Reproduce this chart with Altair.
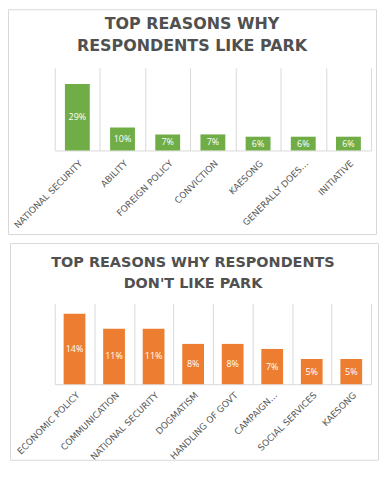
import altair as alt
import pandas as pd

# ---- data ----
like_cats = ["NATIONAL SECURITY", "ABILITY", "FOREIGN POLICY", "CONVICTION",
             "KAESONG", "GENERALLY DOES…", "INITIATIVE"]
like_vals = [29, 10, 7, 7, 6, 6, 6]
like_title = ["TOP REASONS WHY", "RESPONDENTS LIKE PARK"]

dislike_cats = ["ECONOMIC POLICY", "COMMUNICATION", "NATIONAL SECURITY", "DOGMATISM",
                "HANDLING OF GOVT", "CAMPAIGN…", "SOCIAL SERVICES", "KAESONG"]
dislike_vals = [14, 11, 11, 8, 8, 7, 5, 5]
dislike_title = ["TOP REASONS WHY RESPONDENTS", "DON'T LIKE PARK"]

GRID = "#D9D9D9"


def panel(cats, vals, title_lines, color, W, H, ymax, tsize, tline, tx, ty, box, lpad):
    df = pd.DataFrame({"cat": cats, "value": vals})
    df["label"] = [f"{v}%" for v in vals]
    xenc = alt.X(
        "cat:N", sort=cats,
        scale=alt.Scale(paddingInner=0, paddingOuter=0),
        axis=alt.Axis(title=None, labelAngle=-45, labelAlign="right",
                      labelBaseline="middle", labelPadding=lpad, labelOffset=3,
                      ticks=False, tickBand="extent", grid=True,
                      gridColor=GRID, domainColor=GRID, labelOverlap=False),
    )
    yscale = alt.Scale(domain=[0, ymax], nice=False)
    base = alt.Chart(df).encode(x=xenc)
    bars = base.mark_bar(color=color, width={"band": 0.55}).encode(
        y=alt.Y("value:Q", scale=yscale, axis=None)
    )
    labels = base.transform_calculate(mid="datum.value / 2").mark_text(
        color="white", font="Open Sans", fontSize=9, baseline="middle"
    ).encode(y=alt.Y("mid:Q", scale=yscale, axis=None), text="label:N")

    tdf = pd.DataFrame({"t": ["\n".join(title_lines)]})
    border = alt.Chart(tdf).mark_rect(
        fill="white", fillOpacity=0, stroke=GRID, strokeWidth=1
    ).encode(x=alt.value(box[0]), x2=alt.value(box[1]),
             y=alt.value(box[2]), y2=alt.value(box[3]))
    title = alt.Chart(tdf).mark_text(
        font="DejaVu Sans", fontWeight="bold", fontSize=tsize, lineHeight=tline,
        lineBreak="\n", color="#505050", align="center", baseline="alphabetic"
    ).encode(x=alt.value(tx), y=alt.value(ty), text="t:N")

    return alt.layer(border, title, bars, labels).properties(width=W, height=H)


W1, H1 = 318, 83
top = panel(like_cats, like_vals, like_title, "#70AD47", W1, H1, 36,
            16, 22, 138, -39.2, (-46.5, W1 + 5.5, -58.5, H1 + 84.5), 11)

W2, H2 = 318, 81
bottom = panel(dislike_cats, dislike_vals, dislike_title, "#ED7D31", W2, H2, 16,
               14.5, 20.5, 139, -36.7, (-44.5, W2 + 7.5, -60.5, H2 + 76.5), 9)

chart = alt.vconcat(top, bottom, spacing=8).properties(padding=0).configure_view(
    strokeWidth=0
).configure_axis(
    labelFont="DejaVu Sans", labelFontSize=9, labelColor="#595959"
)

chart.save("out.html", embed_options={"renderer": "svg", "actions": False})
